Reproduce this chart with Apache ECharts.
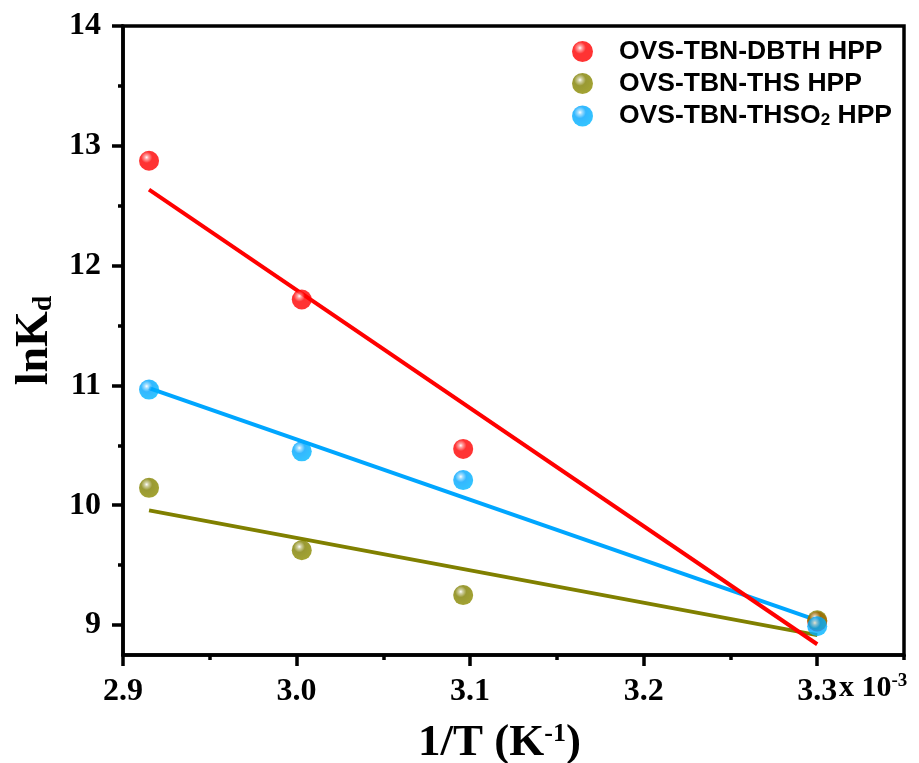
<!DOCTYPE html>
<html>
<head>
<meta charset="utf-8">
<script src="https://cdn.jsdelivr.net/npm/echarts@6/dist/echarts.min.js"></script>
<style>html,body{margin:0;padding:0;background:#fff;}#c{width:919px;height:763px;}</style>
</head>
<body>
<div id="c"></div>
<script>
// ---- data ----
const invT = [2.915, 3.003, 3.096, 3.300];           // 1/T (x 10^-3 K^-1)
const lnKdDBTH = [12.875, 11.717, 10.47, 9.03];
const lnKdTHS = [10.145, 9.625, 9.25, 9.04];
const lnKdTHSO2 = [10.965, 10.45, 10.21, 8.99];
const seriesNames = ['OVS-TBN-DBTH HPP', 'OVS-TBN-THS HPP', 'OVS-TBN-THSO2 HPP'];
const seriesColors = ['#ff0000', '#808000', '#00a6ff'];
const xTicks = [2.9, 3.0, 3.1, 3.2, 3.3];
const xMinorTicks = [2.95, 3.05, 3.15, 3.25, 3.35];
const yTicks = [9, 10, 11, 12, 13, 14];
const yMinorTicks = [9.5, 10.5, 11.5, 12.5, 13.5];

function fit(xs, ys) {
  const n = xs.length;
  const mx = xs.reduce((a, b) => a + b, 0) / n;
  const my = ys.reduce((a, b) => a + b, 0) / n;
  let sxy = 0, sxx = 0;
  for (let i = 0; i < n; i++) { sxy += (xs[i] - mx) * (ys[i] - my); sxx += (xs[i] - mx) ** 2; }
  const b = sxy / sxx, a = my - b * mx;
  const x0 = Math.min(...xs), x1 = Math.max(...xs);
  return [[x0, a + b * x0], [x1, a + b * x1]];
}

const allY = [lnKdDBTH, lnKdTHS, lnKdTHSO2];
const chart = echarts.init(document.getElementById('c'));
const serif = 'Liberation Serif';
const sans = 'Liberation Sans';

function ball(c) {
  return {
    type: 'radial', x: 0.38, y: 0.33, r: 0.7,
    colorStops: [
      { offset: 0, color: '#ffffff' },
      { offset: 0.14, color: echarts.color.lift(c, 0.55) },
      { offset: 0.4, color: c },
      { offset: 1, color: echarts.color.lift(c, -0.1) }
    ]
  };
}

const lineOrder = [1, 2, 0];
const series = [];
lineOrder.forEach(i => {
  series.push({
    name: 'fit' + i, type: 'line', data: fit(invT, allY[i]),
    showSymbol: false, symbol: 'none', z: 2,
    lineStyle: { color: seriesColors[i], width: 4 }, silent: true
  });
});
[0, 1, 2].forEach(i => {
  series.push({
    name: seriesNames[i], type: 'scatter', z: 3 + i,
    data: invT.map((x, k) => [x, allY[i][k]]),
    symbol: 'circle', symbolSize: 20,
    itemStyle: { color: ball(seriesColors[i]) }
  });
});

const labelStyle = { fontFamily: serif, fontWeight: 'bold', fontSize: 32, color: '#000' };

chart.setOption({
  animation: false,
  backgroundColor: '#fff',
  grid: { left: 123, top: 26, right: 15, bottom: 108, show: true, borderColor: '#000', borderWidth: 3.5, backgroundColor: 'transparent', containLabel: false, outerBoundsMode: 'none' },
  legend: {
    data: seriesNames.map((n, i) => ({ name: n, itemStyle: { color: ball(seriesColors[i]) } })),
    orient: 'vertical', left: 567, top: 33,
    icon: 'circle', itemWidth: 21, itemHeight: 21, itemGap: 5,
    formatter: n => n === 'OVS-TBN-THSO2 HPP' ? '{p|}{t|OVS-TBN-THSO}{s|2}{t| HPP}' : '{p|}{t|' + n + '}',
    textStyle: {
      fontFamily: sans, fontWeight: 'bold', fontSize: 26.5, color: '#000',
      rich: {
        p: { width: 21, fontSize: 26.5, lineHeight: 26 },
        t: { fontFamily: sans, fontWeight: 'bold', fontSize: 26.5, color: '#000', lineHeight: 26 },
        s: { fontFamily: sans, fontWeight: 'bold', fontSize: 17, color: '#000', verticalAlign: 'bottom', lineHeight: 16, padding: [10, 0, 0, 0] }
      }
    }
  },
  xAxis: [
    {
      type: 'value', min: 2.9, max: 3.35, position: 'bottom',
      name: '{a|1/T (K}{b|-1}{a|)}', nameLocation: 'middle', nameGap: 66,
      nameTextStyle: {
        padding: [0, 28, 0, 0],
        rich: {
          a: { fontFamily: serif, fontWeight: 'bold', fontSize: 45, color: '#000' },
          b: { fontFamily: serif, fontWeight: 'bold', fontSize: 26, color: '#000', verticalAlign: 'top', padding: [0, 0, 16, 0] }
        }
      },
      axisLine: { show: true, lineStyle: { color: '#000', width: 3.5 } },
      axisTick: { show: true, inside: false, length: 11, lineStyle: { color: '#000', width: 3.5 }, customValues: xTicks },
      axisLabel: Object.assign({ margin: 21, customValues: xTicks, formatter: v => v.toFixed(1) }, labelStyle),
      splitLine: { show: false }
    },
    {
      type: 'value', min: 2.9, max: 3.35, position: 'bottom',
      axisLine: { show: false },
      axisTick: { show: true, inside: false, length: 5, lineStyle: { color: '#000', width: 3.5 }, customValues: xMinorTicks },
      axisLabel: { show: false },
      splitLine: { show: false }
    }
  ],
  yAxis: [
    {
      type: 'value', min: 8.75, max: 14, position: 'left',
      name: '{a|lnK}{b|d}', nameLocation: 'middle', nameGap: 60, nameRotate: 90,
      nameTextStyle: {
        rich: {
          a: { fontFamily: serif, fontWeight: 'bold', fontSize: 46, color: '#000' },
          b: { fontFamily: serif, fontWeight: 'bold', fontSize: 28, color: '#000', verticalAlign: 'bottom', padding: [16, 0, 0, 0] }
        }
      },
      axisLine: { show: true, lineStyle: { color: '#000', width: 3.5 } },
      axisTick: { show: true, inside: false, length: 11, lineStyle: { color: '#000', width: 3.5 }, customValues: yTicks },
      axisLabel: Object.assign({ margin: 22, customValues: yTicks, formatter: v => String(v) }, labelStyle),
      splitLine: { show: false }
    },
    {
      type: 'value', min: 8.75, max: 14, position: 'left',
      axisLine: { show: false },
      axisTick: { show: true, inside: false, length: 5, lineStyle: { color: '#000', width: 3.5 }, customValues: yMinorTicks },
      axisLabel: { show: false },
      splitLine: { show: false }
    }
  ],
  graphic: [{
    type: 'text', left: 839, top: 672,
    style: {
      text: '{a|x 10}{b|-3}',
      rich: {
        a: { fontFamily: serif, fontWeight: 'bold', fontSize: 30, fill: '#000', color: '#000' },
        b: { fontFamily: serif, fontWeight: 'bold', fontSize: 19, fill: '#000', color: '#000', verticalAlign: 'top', padding: [0, 0, 14, 0] }
      }
    }
  }],
  series: series
});
</script>
</body>
</html>
